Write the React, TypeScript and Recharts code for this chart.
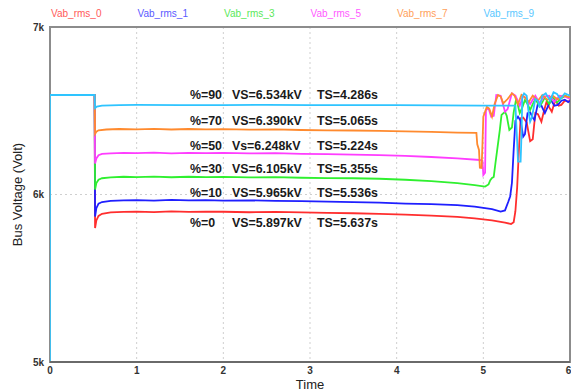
import React from 'react';
import {
  LineChart,
  Line,
  XAxis,
  YAxis,
  CartesianGrid,
  ReferenceArea,
  ReferenceDot,
} from 'recharts';

// Bus voltage (rms) for each load percentage, as [time s, volts] samples
const vab0: [number, number][] = [
  [0, 5000], [0, 6594], [0.515, 6594], [0.52, 5800], [0.535, 5845], [0.56, 5872], [0.6, 5885],
  [0.7, 5893], [0.85, 5896], [1.0, 5898], [1.2, 5895], [1.4, 5899], [1.6, 5896], [1.8, 5898],
  [2.0, 5897], [2.3, 5894], [2.6, 5896], [2.9, 5893], [3.2, 5890], [3.5, 5888], [3.8, 5884],
  [4.1, 5880], [4.4, 5874], [4.7, 5866], [4.9, 5858], [5.1, 5845], [5.25, 5832], [5.32, 5824],
  [5.35, 5835], [5.37, 5900], [5.39, 6040], [5.41, 6260], [5.43, 6455], [5.46, 6460], [5.5, 6430],
  [5.54, 6318], [5.57, 6330], [5.6, 6486], [5.63, 6480], [5.67, 6435], [5.7, 6500], [5.73, 6554],
  [5.76, 6520], [5.79, 6494], [5.83, 6564], [5.87, 6530], [5.9, 6535], [5.94, 6560], [5.98, 6555],
  [6.0, 6560],
];

const vab1: [number, number][] = [
  [0, 5000], [0, 6594], [0.515, 6594], [0.52, 5868], [0.535, 5918], [0.56, 5945], [0.6, 5955],
  [0.7, 5962], [0.85, 5965], [1.0, 5967], [1.2, 5964], [1.4, 5968], [1.6, 5965], [1.8, 5966],
  [2.0, 5963], [2.3, 5965], [2.6, 5962], [2.9, 5960], [3.2, 5958], [3.5, 5955], [3.8, 5951],
  [4.1, 5946], [4.4, 5942], [4.7, 5937], [4.9, 5928], [5.1, 5913], [5.2, 5898], [5.25, 5905],
  [5.29, 5960], [5.31, 5990], [5.33, 6070], [5.35, 6266], [5.37, 6440], [5.4, 6465], [5.43, 6440],
  [5.46, 6345], [5.48, 6360], [5.51, 6486], [5.54, 6490], [5.57, 6460], [5.59, 6445], [5.63, 6544],
  [5.67, 6530], [5.71, 6486], [5.74, 6520], [5.78, 6564], [5.82, 6530], [5.86, 6535], [5.9, 6560],
  [5.94, 6566], [5.98, 6552], [6.0, 6560],
];

const vab3: [number, number][] = [
  [0, 5000], [0, 6594], [0.515, 6594], [0.52, 6030], [0.535, 6068], [0.56, 6088], [0.6, 6097],
  [0.7, 6102], [0.85, 6106], [1.0, 6104], [1.2, 6107], [1.4, 6103], [1.6, 6106], [1.8, 6104],
  [2.0, 6105], [2.3, 6102], [2.6, 6104], [2.9, 6100], [3.2, 6098], [3.5, 6097], [3.8, 6094],
  [4.1, 6088], [4.4, 6080], [4.7, 6068], [4.9, 6056], [5.02, 6047], [5.06, 6060], [5.08, 6085],
  [5.1, 6099], [5.12, 6105], [5.14, 6188], [5.16, 6266], [5.19, 6385], [5.21, 6475], [5.25, 6494],
  [5.27, 6470], [5.3, 6385], [5.33, 6400], [5.35, 6490], [5.38, 6574], [5.42, 6486], [5.45, 6520],
  [5.48, 6564], [5.51, 6540], [5.54, 6505], [5.57, 6540], [5.6, 6570], [5.65, 6525], [5.68, 6550],
  [5.71, 6580], [5.76, 6540], [5.8, 6580], [5.85, 6550], [5.9, 6575], [5.95, 6590], [6.0, 6575],
];

const vab5: [number, number][] = [
  [0, 5000], [0, 6594], [0.515, 6594], [0.52, 6185], [0.535, 6215], [0.56, 6235], [0.6, 6242],
  [0.7, 6246], [0.85, 6249], [1.0, 6247], [1.2, 6250], [1.4, 6246], [1.6, 6249], [1.8, 6247],
  [2.0, 6248], [2.3, 6245], [2.6, 6247], [2.9, 6243], [3.2, 6241], [3.5, 6238], [3.8, 6235],
  [4.1, 6230], [4.4, 6224], [4.7, 6216], [4.96, 6206], [4.99, 6200], [5.0, 6116], [5.02, 6130],
  [5.03, 6504], [5.06, 6515], [5.09, 6465], [5.12, 6470], [5.15, 6594], [5.2, 6590], [5.25, 6494],
  [5.28, 6510], [5.33, 6604], [5.37, 6590], [5.42, 6530], [5.46, 6590], [5.5, 6570], [5.54, 6540],
  [5.6, 6590], [5.65, 6545], [5.7, 6585], [5.76, 6590], [5.82, 6555], [5.88, 6590], [5.94, 6585],
  [6.0, 6570],
];

const vab7: [number, number][] = [
  [0, 5000], [0, 6594], [0.515, 6594], [0.52, 6362], [0.535, 6375], [0.56, 6383], [0.65, 6388],
  [0.8, 6391], [1.0, 6389], [1.2, 6392], [1.4, 6388], [1.6, 6391], [1.8, 6389], [2.0, 6390],
  [2.3, 6387], [2.6, 6389], [2.9, 6385], [3.2, 6383], [3.5, 6382], [3.8, 6380], [4.1, 6377],
  [4.4, 6374], [4.7, 6370], [4.92, 6368], [4.93, 6300], [4.95, 6266], [4.96, 6160], [4.98, 6158],
  [4.99, 6300], [5.0, 6465], [5.04, 6524], [5.07, 6510], [5.1, 6465], [5.13, 6540], [5.17, 6594],
  [5.2, 6585], [5.23, 6544], [5.28, 6570], [5.33, 6604], [5.36, 6590], [5.4, 6540], [5.44, 6594],
  [5.48, 6580], [5.52, 6550], [5.57, 6590], [5.63, 6560], [5.68, 6594], [5.74, 6565], [5.8, 6590],
  [5.86, 6568], [5.92, 6590], [6.0, 6580],
];

const vab9: [number, number][] = [
  [0, 5000], [0, 6594], [0.515, 6594], [0.52, 6516], [0.54, 6525], [0.6, 6531], [0.8, 6534],
  [1.0, 6535], [1.5, 6533], [2.0, 6534], [2.5, 6535], [3.0, 6533], [3.5, 6534], [4.0, 6533],
  [4.5, 6532], [5.0, 6531], [5.37, 6530], [5.39, 6320], [5.4, 6196], [5.43, 6196], [5.44, 6350],
  [5.45, 6584], [5.47, 6604], [5.5, 6590], [5.52, 6500], [5.54, 6435], [5.56, 6460], [5.6, 6570],
  [5.63, 6560], [5.65, 6520], [5.68, 6590], [5.72, 6604], [5.77, 6560], [5.81, 6610], [5.85, 6600],
  [5.89, 6570], [5.94, 6604], [6.0, 6590],
];

const seriesNames = ['Vab_rms_0', 'Vab_rms_1', 'Vab_rms_3', 'Vab_rms_5', 'Vab_rms_7', 'Vab_rms_9'];
const seriesValues = [vab0, vab1, vab3, vab5, vab7, vab9];
const lineColors = ['#ff2e2e', '#1f1fff', '#2ff02f', '#ff3dff', '#ff8a2e', '#2ec4ff'];
const legendColors = ['#ff5a5a', '#5a5aff', '#5ae85a', '#ff5aff', '#ffa05a', '#5ac8ff'];

const xTicks = [0, 1, 2, 3, 4, 5, 6];
const yTicks = [5000, 6000, 7000];

// Annotation rows: load percentage, settled voltage, settling time
const notePct = ['%=90', '%=70', '%=50', '%=30', '%=10', '%=0'];
const noteVS = ['VS=6.534kV', 'VS=6.390kV', 'Vs=6.248kV', 'VS=6.105kV', 'VS=5.965kV', 'VS=5.897kV'];
const noteTS = ['TS=4.286s', 'TS=5.065s', 'TS=5.224s', 'TS=5.355s', 'TS=5.536s', 'TS=5.637s'];
const noteLevel = [6594, 6441, 6290, 6150, 6011, 5832];
const noteTime = 1.615;

const FONT = '"Liberation Sans", Arial, sans-serif';

const toRows = (pts: [number, number][]) => pts.map(([t, v]) => ({ t, v }));

const kFormat = (v: number) => `${v / 1000}k`;

const NoteShape = (i: number) => (props: any) => {
  const { cx, cy } = props;
  const common = {
    y: cy + 4,
    fontFamily: FONT,
    fontSize: 12.4,
    fontWeight: 700,
    fill: '#1a1a1a',
  };
  return (
    <g>
      <text x={cx} {...common}>{notePct[i]}</text>
      <text x={cx + 42} {...common}>{noteVS[i]}</text>
      <text x={cx + 127} {...common}>{noteTS[i]}</text>
    </g>
  );
};

export default function App() {
  return (
    <div style={{ position: 'absolute', left: 0, top: 0, width: 571, height: 391, background: '#fff' }}>
      <div
        style={{
          position: 'absolute',
          left: 33,
          top: 8,
          display: 'flex',
          fontFamily: FONT,
          fontSize: 10,
          lineHeight: '12px',
        }}
      >
        {seriesNames.map((name, i) => (
          <div key={name} style={{ width: 86.5, textAlign: 'center', color: legendColors[i] }}>
            {name}
          </div>
        ))}
      </div>
      <LineChart
        width={571}
        height={391}
        margin={{ top: 27, right: 1, bottom: 0, left: 0 }}
        style={{ position: 'absolute', left: 0, top: 0 }}
      >
        <CartesianGrid stroke="#cfcfcf" strokeDasharray="2 3" />
        <ReferenceArea
          x1={0}
          x2={6}
          y1={5000}
          y2={7000}
          fill="none"
          stroke="#8c8c8c"
          strokeWidth={2}
          fillOpacity={0}
        />
        <XAxis
          dataKey="t"
          type="number"
          domain={[0, 6]}
          ticks={xTicks}
          height={29}
          allowDataOverflow
          axisLine={{ stroke: '#6a6a6a', strokeWidth: 2 }}
          tickLine={false}
          tickSize={2}
          tickMargin={3}
          tick={{ fontFamily: FONT, fontSize: 10, fill: '#333', fontWeight: 700 }}
          label={{
            content: (p: any) => {
              const vb = p.viewBox || {};
              return (
                <text
                  x={vb.x + vb.width / 2}
                  y={389}
                  textAnchor="middle"
                  fontFamily={FONT}
                  fontSize={13}
                  fill="#222"
                >
                  Time
                </text>
              );
            },
          }}
        />
        <YAxis
          type="number"
          domain={[5000, 7000]}
          ticks={yTicks}
          width={50}
          allowDataOverflow
          axisLine={false}
          tickLine={false}
          tickSize={4}
          tickMargin={2}
          tickFormatter={kFormat}
          tick={{ fontFamily: FONT, fontSize: 10, fill: '#333', fontWeight: 700 }}
          label={{
            content: (p: any) => {
              const vb = p.viewBox || {};
              const cy = vb.y + vb.height / 2;
              return (
                <text
                  x={17}
                  y={cy}
                  transform={`rotate(-90, 17, ${cy})`}
                  textAnchor="middle"
                  dominantBaseline="central"
                  fontFamily={FONT}
                  fontSize={13}
                  fill="#222"
                >
                  Bus Voltage (Volt)
                </text>
              );
            },
          }}
        />
        {seriesValues.map((pts, i) => (
          <Line
            key={seriesNames[i]}
            data={toRows(pts)}
            dataKey="v"
            name={seriesNames[i]}
            type="linear"
            stroke={lineColors[i]}
            strokeWidth={1.8}
            dot={false}
            activeDot={false}
            isAnimationActive={false}
          />
        ))}
        {noteLevel.map((lvl, i) => (
          <ReferenceDot
            key={notePct[i]}
            x={noteTime}
            y={lvl}
            r={0}
            shape={NoteShape(i)}
          />
        ))}
      </LineChart>
    </div>
  );
}
